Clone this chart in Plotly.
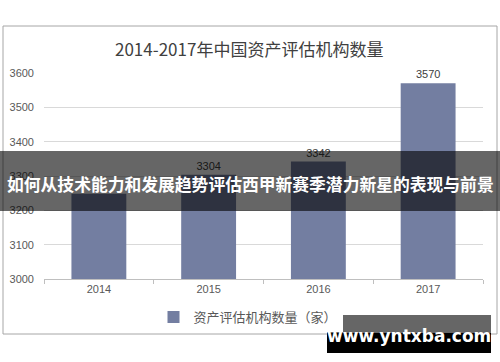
import plotly.graph_objects as go

# ---- data ----
years = ["2014", "2015", "2016", "2017"]
counts = [3248, 3304, 3342, 3570]
value_labels = ["", "3304", "3342", "3570"]  # 2014 label is hidden under the banner in the reference
y_ticks = [3000, 3100, 3200, 3300, 3400, 3500, 3600]
title_text = "2014-2017年中国资产评估机构数量"
series_name = "资产评估机构数量（家）"
banner_text = "如何从技术能力和发展趋势评估西甲新赛季潜力新星的表现与前景"
watermark_text = "www.yntxba.com"

W, H = 500, 362
L, R, T, B = 44, 17, 73, 83
PW, PH = W - L - R, H - T - B

def px(x):
    return (x - L) / PW

def py(y):
    return (H - B - y) / PH

fig = go.Figure()
fig.add_trace(go.Bar(
    x=years, y=counts, name=series_name,
    marker=dict(color="#737ea1", line=dict(width=0)),
    text=value_labels, textposition="outside",
    textfont=dict(family="Arial, Liberation Sans", size=11, color="#404040"),
    cliponaxis=False,
    showlegend=True,
))

shapes = [
    # chart frame
    dict(type="rect", xref="paper", yref="paper", x0=px(3), x1=px(497), y0=py(334), y1=py(26),
         line=dict(color="#a6a6a6", width=1), fillcolor="rgba(0,0,0,0)", layer="below"),
    # banner
    dict(type="rect", xref="paper", yref="paper", x0=px(0), x1=px(500), y0=py(211), y1=py(151),
         line=dict(width=0), fillcolor="rgba(0,0,0,0.6)", layer="above"),
    # watermark boxes
    dict(type="rect", xref="paper", yref="paper", x0=px(327), x1=px(491), y0=py(333), y1=py(315),
         line=dict(width=0), fillcolor="rgba(0,0,0,0.6)", layer="above"),
    dict(type="rect", xref="paper", yref="paper", x0=px(327), x1=px(491), y0=py(353), y1=py(333),
         line=dict(width=0), fillcolor="#000000", layer="above"),
]

annotations = [
    dict(text=title_text, xref="paper", yref="paper", x=px(249), y=py(48), showarrow=False,
         xanchor="center", yanchor="middle",
         font=dict(family="Noto Sans CJK SC", size=17, color="#404040")),
    dict(text="<b>" + banner_text + "</b>", xref="paper", yref="paper", x=px(250), y=py(184),
         showarrow=False, xanchor="center", yanchor="middle",
         font=dict(family="Noto Sans CJK SC", size=16.8, color="#ffffff")),
    dict(text="<b>" + watermark_text + "</b>", xref="paper", yref="paper", x=px(409), y=py(336),
         showarrow=False, xanchor="center", yanchor="middle",
         font=dict(family="DejaVu Sans, Verdana", size=17, color="#ffffff")),
]

fig.update_layout(
    width=W, height=H,
    margin=dict(l=L, r=R, t=T, b=B, pad=0, autoexpand=False),
    paper_bgcolor="#ffffff", plot_bgcolor="#ffffff",
    bargap=0.5,
    shapes=shapes,
    annotations=annotations,
    legend=dict(orientation="h", x=px(248), xanchor="center", y=py(317), yanchor="middle",
                font=dict(family="Noto Sans CJK SC", size=13, color="#595959")),
    font=dict(family="Arial, Liberation Sans", color="#595959"),
)
fig.update_xaxes(
    showline=True, linecolor="#bfbfbf", linewidth=1,
    ticks="outside", ticklen=4, tickcolor="#bfbfbf", tickson="boundaries",
    tickfont=dict(family="Arial, Liberation Sans", size=11, color="#595959"),
    showgrid=False, zeroline=False, automargin=False,
)
fig.update_yaxes(
    range=[3000, 3600], tickvals=y_ticks, ticktext=[str(v) for v in y_ticks],
    showgrid=True, gridcolor="#d9d9d9", gridwidth=1,
    showline=False, zeroline=False, ticks="", ticklabelstandoff=9,
    tickfont=dict(family="Arial, Liberation Sans", size=11, color="#595959"),
    automargin=False,
)

fig.write_html(
    "out.html",
    config={"displayModeBar": False},
    post_script="document.body.style.margin='0';document.body.style.overflow='hidden';",
)
